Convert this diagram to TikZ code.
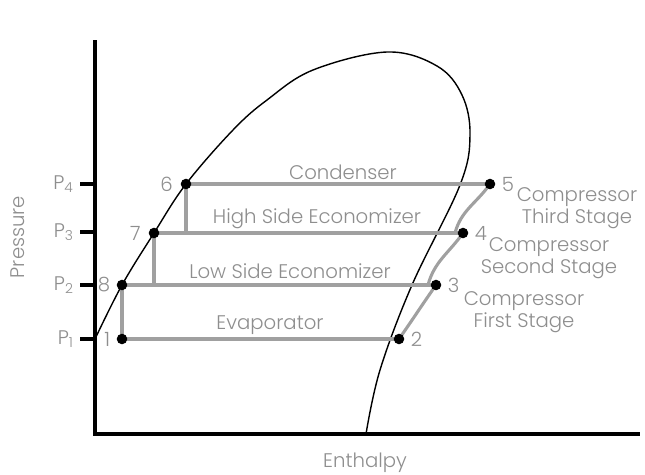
\documentclass[tikz,border=0pt]{standalone}
\usepackage{fontspec}
\setmainfont{Poppins Light}
\usetikzlibrary{positioning}
\definecolor{linegray}{HTML}{A0A0A0}
\definecolor{textgray}{HTML}{8E8E8E}
\tikzset{
  statept/.style={circle, fill=black, inner sep=0pt, minimum size=7.5pt},
  cycleline/.style={draw=linegray, line width=2.2pt},
  lbl/.style={text=textgray, font=\fontsize{14}{15.3}\selectfont, align=center},
  axisline/.style={line width=2.2pt}
}

\begin{document}
\begin{tikzpicture}[x=0.025cm, y=-0.025cm]
    \useasboundingbox (0,0) rectangle (645,474);

    % axes
    \coordinate (ytop) at (95,40);
    \coordinate (origin) at (95,434);
    \coordinate (xend) at (640,434);
    \draw[axisline] (ytop) -- (origin) -- (xend);
    \node[lbl, rotate=90] (ylbl) at (18,237) {Pressure};
    \node[lbl] (xlbl) at (365,463) {Enthalpy};

    % pressure ticks
    \foreach \name/\py in {1/339, 2/285, 3/232, 4/184} {
        \coordinate (tick\name) at (80,\py);
        \coordinate (axis\name) at (95,\py);
        \draw[axisline] (tick\name) -- (axis\name);
        \node[lbl, left=1pt of tick\name] (plbl\name) {P\textsubscript{\name}};
    }

    % saturation dome
    \draw[line width=1pt] plot[smooth, tension=0.6] coordinates {
        (95,339) (122,285) (154,233) (186,184) (233,130) (267,100) (313,70)
        (387,52) (437,66) (462,95) (470,135) (460,185) (412,285)
        (380,370) (366,434)};

    % state points
    \coordinate (p1) at (122,339);
    \coordinate (p2) at (399,339);
    \coordinate (p3) at (436,285);
    \coordinate (p4) at (463,233);
    \coordinate (p5) at (490,184);
    \coordinate (p6) at (186,184);
    \coordinate (p7) at (154,233);
    \coordinate (p8) at (122,285);
    \coordinate (mix3) at (428,285);
    \coordinate (mix4) at (455,233);
    \coordinate (drop7) at (154,285);
    \coordinate (drop6) at (186,233);

    % cycle
    \draw[cycleline] (p1) -- (p2);
    \draw[cycleline] (p8) -- (p3);
    \draw[cycleline] (p7) -- (p4);
    \draw[cycleline] (p6) -- (p5);
    \draw[cycleline] (p8) -- (p1);
    \draw[cycleline] (p7) -- (drop7);
    \draw[cycleline] (p6) -- (drop6);
    \draw[cycleline] (p2) to[out=55, in=235] (p3);
    \draw[cycleline] (mix3) to[out=75, in=235] (p4);
    \draw[cycleline] (mix4) to[out=75, in=235] (p5);

    \foreach \n in {1,...,8} {
        \node[statept] (dot\n) at (p\n) {};
    }

    % point numbers
    \node[lbl, left=1pt of dot1] (num1) {1};
    \node[lbl, right=1pt of dot2] (num2) {2};
    \node[lbl, right=1pt of dot3] (num3) {3};
    \node[lbl, right=1pt of dot4] (num4) {4};
    \node[lbl, right=1pt of dot5] (num5) {5};
    \node[lbl, left=2pt of dot6] (num6) {6};
    \node[lbl, left=2pt of dot7] (num7) {7};
    \node[lbl, left=1pt of dot8] (num8) {8};

    % process labels
    \node[lbl] (cond) at (343,172) {Condenser};
    \node[lbl] (hiecon) at (317,219) {High Side Economizer};
    \node[lbl] (loecon) at (290,271) {Low Side Economizer};
    \node[lbl] (evap) at (270,325) {Evaporator};
    \node[lbl] (comp3) at (577,208) {Compressor\\Third Stage};
    \node[lbl] (comp2) at (549,258) {Compressor\\Second Stage};
    \node[lbl] (comp1) at (524,312) {Compressor\\First Stage};
\end{tikzpicture}
\end{document}
